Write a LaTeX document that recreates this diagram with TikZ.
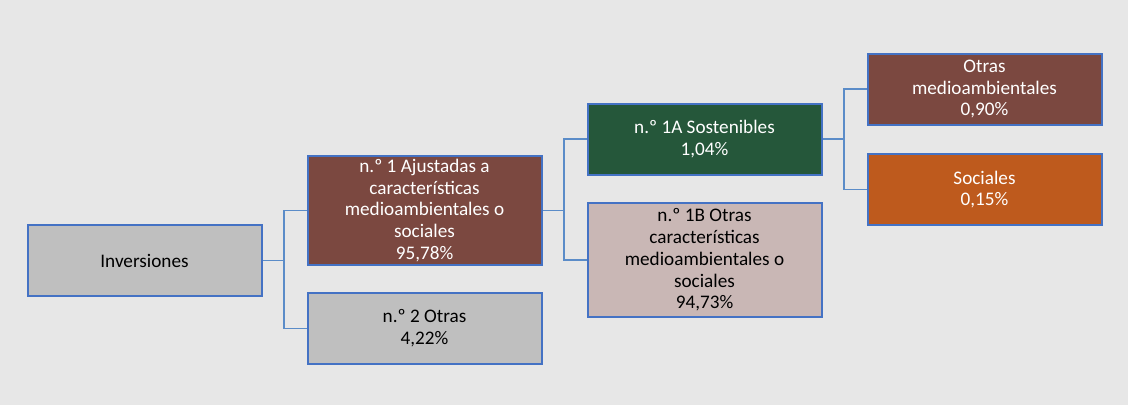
\documentclass[tikz,border=0pt]{standalone}
\usepackage{fontspec}
\setmainfont{Carlito}
\definecolor{bgc}{HTML}{E7E7E7}
\definecolor{bord}{HTML}{4472C4}
\definecolor{conn}{HTML}{5B8CC8}
\definecolor{brownc}{HTML}{7B4840}
\definecolor{greenc}{HTML}{25573A}
\definecolor{orangec}{HTML}{BE5A1D}
\definecolor{pinkc}{HTML}{C9B7B5}
\definecolor{grayc}{HTML}{BFBFBF}
\begin{document}
\begin{tikzpicture}[x=0.75pt,y=-0.75pt,
  box/.style={draw=bord,line width=1.5pt,minimum width=175.5pt,minimum height=53.25pt,
    inner sep=0pt,align=center,font=\fontsize{14.4}{16.3}\selectfont},
  darkbox/.style={box,text=white},
  lightbox/.style={box,text=black},
  link/.style={draw=conn,line width=1.2pt}]
\fill[bgc] (0,0) rectangle (1128,405);
\useasboundingbox (0,0) rectangle (1128,405);
\node[lightbox,fill=grayc] (inv) at (144.5,260.5) {Inversiones};
\node[darkbox,fill=brownc,minimum height=81.75pt] (n1) at (424.5,210.5)
  {n.º 1 Ajustadas a\\características\\medioambientales o\\sociales\\95,78\%};
\node[lightbox,fill=grayc] (n2) at (424.5,328.5) {n.º 2 Otras\\4,22\%};
\node[darkbox,fill=greenc] (a1) at (704.5,139) {n.º 1A Sostenibles\\1,04\%};
\node[lightbox,fill=pinkc,minimum height=85.5pt] (b1) at (704.5,260)
  {n.º 1B Otras\\características\\medioambientales o\\sociales\\94,73\%};
\node[darkbox,fill=brownc] (om) at (984.5,89) {Otras\\medioambientales\\0,90\%};
\node[darkbox,fill=orangec] (so) at (984.5,189.5) {Sociales\\0,15\%};
\coordinate (j1) at (284,260.5);
\coordinate (j2) at (564,210.5);
\coordinate (j3) at (844,139);
\draw[link] (inv.east) -- (j1) |- (n1.west);
\draw[link] (j1) |- (n2.west);
\draw[link] (n1.east) -- (j2) |- (a1.west);
\draw[link] (j2) |- (b1.west);
\draw[link] (a1.east) -- (j3) |- (om.west);
\draw[link] (j3) |- (so.west);
\end{tikzpicture}
\end{document}
